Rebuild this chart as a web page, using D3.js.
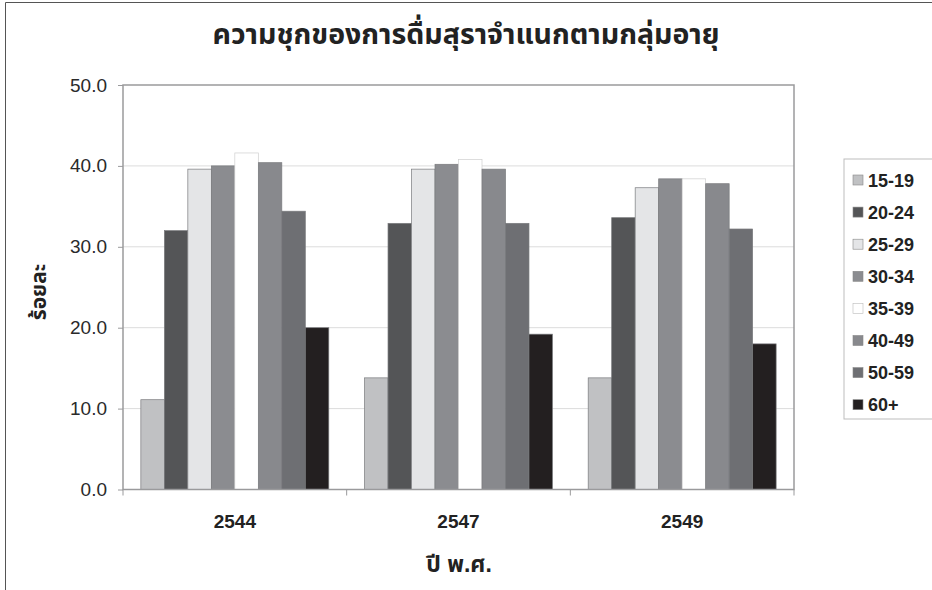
<!DOCTYPE html>
<html>
<head>
<meta charset="utf-8">
<script src="https://cdn.jsdelivr.net/npm/d3@7/dist/d3.min.js"></script>
<style>
  html, body { margin: 0; padding: 0; background: #fff; }
  svg { display: block; }
  text { font-family: "Liberation Sans", Arial, "Noto Sans Thai", "DejaVu Sans", sans-serif; }
</style>
</head>
<body>
<svg id="chart" width="932" height="590"></svg>
<script>
// Prevalence of alcohol drinking by age group, Thai survey years
const years = ["2544", "2547", "2549"];
const ageGroups = ["15-19", "20-24", "25-29", "30-34", "35-39", "40-49", "50-59", "60+"];
const v2544 = [11.1, 32.0, 39.6, 40.0, 41.6, 40.4, 34.4, 20.0];
const v2547 = [13.8, 32.9, 39.6, 40.2, 40.8, 39.6, 32.9, 19.2];
const v2549 = [13.8, 33.6, 37.3, 38.4, 38.4, 37.8, 32.2, 18.0];
const yTicks = [0, 10, 20, 30, 40, 50];
const groupColors = ["#c0c1c3", "#545557", "#e4e5e7", "#8b8c90", "#ffffff", "#88898d", "#6e6f73", "#231f20"];

const valuesByYear = [v2544, v2547, v2549];
const rows = years.flatMap((yr, i) =>
  ageGroups.map((g, j) => ({ year: yr, group: g, value: valuesByYear[i][j] })));

const svg = d3.select("#chart");
const plot = { left: 123, right: 794, top: 85, bottom: 489.5 };

// outer chart frame (top and left edges)
svg.append("path")
  .attr("d", "M5.5,600 V2.5 H940")
  .attr("fill", "none").attr("stroke", "#555").attr("stroke-width", 1);

const x0 = d3.scaleBand().domain(years).range([plot.left, plot.right]).paddingInner(0).paddingOuter(0);
const x1 = d3.scaleBand().domain(ageGroups).range([0, x0.bandwidth()]).paddingInner(0).paddingOuter(0.76);
const y = d3.scaleLinear().domain([0, 50]).range([plot.bottom, plot.top]);
const color = d3.scaleOrdinal().domain(ageGroups).range(groupColors);

// gridlines
svg.append("g").selectAll("line").data(yTicks.filter(t => t > 0 && t < 50)).join("line")
  .attr("x1", plot.left).attr("x2", plot.right)
  .attr("y1", d => y(d)).attr("y2", d => y(d))
  .attr("stroke", "#dcdcdc").attr("stroke-width", 1);

// bars
svg.append("g").selectAll("rect").data(rows).join("rect")
  .attr("x", d => x0(d.year) + x1(d.group))
  .attr("y", d => y(d.value))
  .attr("width", x1.bandwidth())
  .attr("height", d => y(0) - y(d.value))
  .attr("fill", d => color(d.group))
  .attr("stroke", d => d.group === "35-39" ? "#cfcfcf" : "#7a7b7e")
  .attr("stroke-width", 0.7);

// plot area frame
svg.append("rect")
  .attr("x", plot.left).attr("y", plot.top)
  .attr("width", plot.right - plot.left).attr("height", plot.bottom - plot.top)
  .attr("fill", "none").attr("stroke", "#9a9a9c").attr("stroke-width", 1.5);

// y axis
const yAxis = svg.append("g").attr("transform", `translate(${plot.left},0)`)
  .call(d3.axisLeft(y).tickValues(yTicks).tickFormat(d3.format(".1f")).tickSize(5).tickPadding(11));
yAxis.select(".domain").remove();
yAxis.selectAll(".tick line").attr("stroke", "#9a9a9c");
yAxis.selectAll(".tick text").attr("font-size", 19).attr("fill", "#2a2a2a")
  .style("font-family", "'Liberation Sans', Arial, sans-serif");

// x axis: ticks at category boundaries
const xAxis = svg.append("g").attr("transform", `translate(0,${plot.bottom})`);
xAxis.selectAll("line").data(years.map(yr => x0(yr)).concat([plot.right])).join("line")
  .attr("x1", d => d).attr("x2", d => d).attr("y1", 0).attr("y2", 6)
  .attr("stroke", "#9a9a9c");
xAxis.selectAll("text").data(years).join("text")
  .attr("x", d => x0(d) + x0.bandwidth() / 2).attr("y", 38)
  .attr("text-anchor", "middle").attr("font-size", 19).attr("font-weight", "bold")
  .attr("fill", "#222").text(d => d);

// titles
svg.append("text").attr("x", 466).attr("y", 44).attr("text-anchor", "middle")
  .attr("font-size", 28.5).attr("font-weight", "bold").attr("fill", "#222")
  .text("ความชุกของการดื่มสุราจำแนกตามกลุ่มอายุ");
svg.append("text").attr("x", 459).attr("y", 572).attr("text-anchor", "middle")
  .attr("font-size", 23).attr("font-weight", "bold").attr("fill", "#222")
  .text("ปี พ.ศ.");
svg.append("text").attr("transform", "translate(46,292) rotate(-90)").attr("text-anchor", "middle")
  .attr("font-size", 21).attr("font-weight", "bold").attr("fill", "#222")
  .text("ร้อยละ");

// legend
const legend = svg.append("g");
legend.append("rect").attr("x", 844).attr("y", 159).attr("width", 120).attr("height", 260)
  .attr("fill", "#fff").attr("stroke", "#bdbdbd").attr("stroke-width", 1);
const item = legend.selectAll("g.item").data(ageGroups).join("g").attr("class", "item")
  .attr("transform", (d, i) => `translate(853,${180 + i * 32.1})`);
item.append("rect").attr("x", 0).attr("y", -5).attr("width", 10).attr("height", 10)
  .attr("fill", d => color(d)).attr("stroke", d => d === "35-39" ? "#bbb" : "#888").attr("stroke-width", 0.6);
item.append("text").attr("x", 15).attr("y", 6.5).attr("font-size", 18).attr("font-weight", "bold")
  .attr("fill", "#222").text(d => d);
</script>
</body>
</html>
